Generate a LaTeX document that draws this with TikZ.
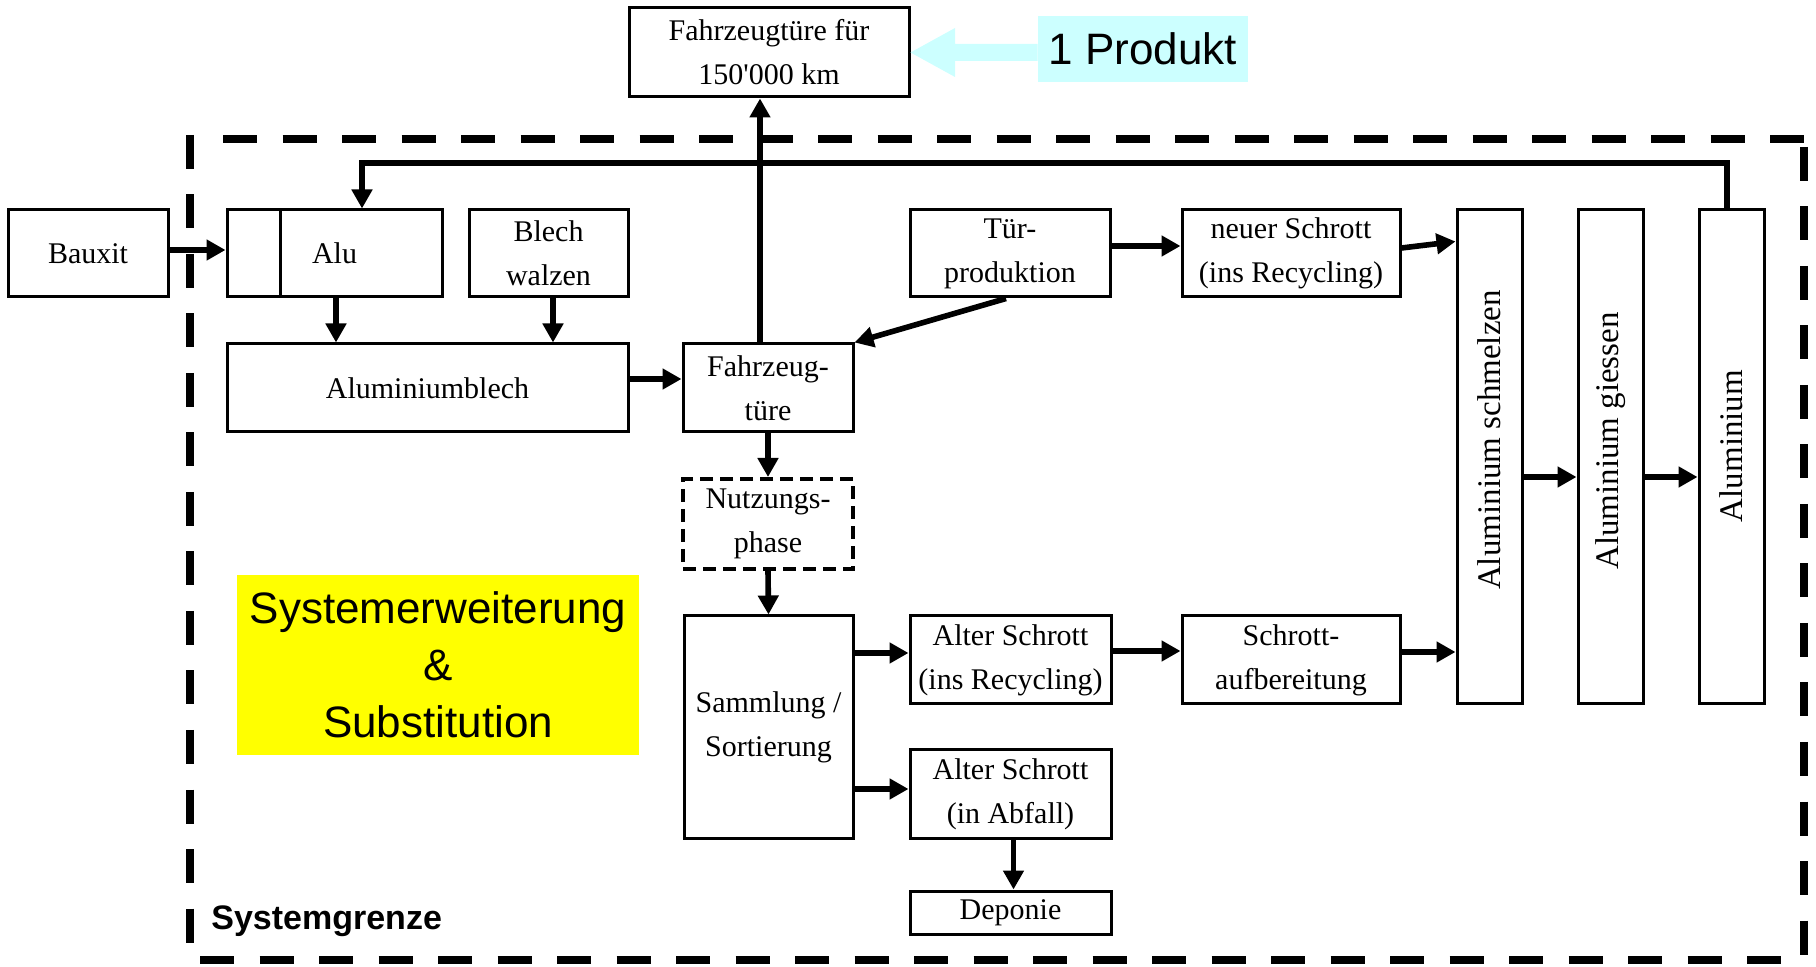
\documentclass[tikz,border=0pt]{standalone}
\usepackage{fontspec}
\setmainfont{Liberation Serif}
\newfontfamily\arialfont{Liberation Sans}
\usetikzlibrary{arrows.meta}
\definecolor{produktcyan}{HTML}{CCFFFF}
\definecolor{signalyellow}{HTML}{FFFF00}

\begin{document}
\begin{tikzpicture}[x=0.5pt, y=-0.5pt,
  box/.style={draw, line width=1.5pt, inner sep=0pt, align=center,
              font=\fontsize{15}{22}\selectfont},
  usebox/.style={box, line width=2pt, dash pattern=on 6.5pt off 3.5pt},
  flow/.style={line width=2.8pt, -{Triangle[length=9.5pt,width=10pt]}},
  boundary/.style={line width=4pt, dash pattern=on 17pt off 12.75pt},
  vtext/.style={rotate=90, inner sep=0pt, font=\fontsize{16.5}{20}\selectfont}
]
\useasboundingbox (0,0) rectangle (1816,967);

% system boundary
\draw[boundary] (190,135) -- (190,962);
\draw[boundary] (223,139) -- (1806,139);
\draw[boundary] (1804,147) -- (1804,962);
\draw[boundary] (200,960) -- (1804,960);

% product box and label
\node[box, minimum width=140pt, minimum height=44.5pt] (ziel) at (769,52.5) {Fahrzeugtüre für\\150\textquotesingle 000 km};
\node[fill=produktcyan, inner sep=0pt, minimum width=105pt, minimum height=33pt,
      font=\arialfont\fontsize{22}{26}\selectfont] (produkt) at (1143,49) {1 Produkt};
\fill[produktcyan] (produkt.west |- 0,44) -- (955,44) -- (955,28) -- (ziel.east)
  -- (955,77) -- (955,61) -- (produkt.west |- 0,61) -- cycle;

% process boxes
\node[box, minimum width=80pt, minimum height=43.5pt] (bauxit) at (88,253.5) {Bauxit};
\node[box, minimum width=107.5pt, minimum height=43.5pt] (alu) at (334.5,253.5) {Alu};
\draw[line width=1.5pt] ([xshift=27.5pt]alu.north west) -- ([xshift=27.5pt]alu.south west);
\node[box, minimum width=79.5pt, minimum height=43.5pt] (walzen) at (548.5,253.5) {Blech\\walzen};
\node[box, minimum width=200.5pt, minimum height=44pt] (alublech) at (427.5,388) {Aluminiumblech};
\node[box, minimum width=85pt, minimum height=44pt] (tuer) at (768,388) {Fahrzeug-\\türe};
\node[box, minimum width=100pt, minimum height=43.5pt] (tprod) at (1010,253.5) {Tür-\\produktion};
\node[box, minimum width=109pt, minimum height=43.5pt] (neu) at (1291,253.5) {neuer Schrott\\(ins Recycling)};
\node[usebox, minimum width=85pt, minimum height=45pt] (nutz) at (768,524) {Nutzungs-\\phase};
\node[box, minimum width=84.5pt, minimum height=111pt] (samm) at (768.5,727) {Sammlung /\\Sortierung};
\node[box, minimum width=100.5pt, minimum height=44pt] (altrec) at (1010.5,660) {Alter Schrott\\(ins Recycling)};
\node[box, minimum width=109pt, minimum height=44pt] (aufb) at (1291,660) {Schrott-\\aufbereitung};
\node[box, minimum width=100.5pt, minimum height=44pt] (abfall) at (1010.5,794) {Alter Schrott\\(in Abfall)};
\node[box, minimum width=100.5pt, minimum height=21.5pt] (deponie) at (1010.5,912.5) {Deponie};

% tall aluminium boxes with upright text
\node[box, minimum width=32.5pt, minimum height=247pt] (schmelzen) at (1489.5,457) {};
\node[box, minimum width=32.5pt, minimum height=247pt] (giessen) at (1610.5,457) {};
\node[box, minimum width=32.5pt, minimum height=247pt] (alum) at (1731.5,457) {};
\node[vtext] (tschmelzen) at (1489.5,440) {Aluminium schmelzen};
\node[vtext] (tgiessen) at (1610.5,441) {Aluminium giessen};
\node[vtext] (talum) at (1731.5,446) {Aluminium};

% highlighted note and boundary label
\node[fill=signalyellow, inner sep=0pt, minimum width=201pt, minimum height=90pt, align=center,
      font=\arialfont\fontsize{22}{28.5}\selectfont] (erweiterung) at (438,665)
      {Systemerweiterung\\\&\\Substitution};
\node[anchor=west, inner sep=0pt, font=\arialfont\bfseries\fontsize{17}{20}\selectfont]
      (grenze) at (211,921) {Systemgrenze};

% flows
\coordinate (loopA) at (1727,209);
\coordinate (loopB) at (362,163);
\draw[flow] (loopA) |- (loopB) -- (loopB |- alu.north);
\draw[flow] ([yshift=1.75pt]bauxit.east) -- ([yshift=1.75pt]alu.west);
\draw[flow] ([xshift=0.75pt]alu.south) -- ([xshift=0.75pt]alu.south |- alublech.north);
\draw[flow] ([xshift=2.25pt]walzen.south) -- ([xshift=2.25pt]walzen.south |- alublech.north);
\draw[flow] ([yshift=4.5pt]alublech.east) -- ([yshift=4.5pt]tuer.west);
\draw[flow] ([xshift=-4pt]tuer.north) -- ([xshift=-4pt]tuer.north |- ziel.south);
\draw[flow] (tuer.south) -- (nutz.north);
\draw[flow] (nutz.south) -- (samm.north);
\draw[flow] ([xshift=-2pt]tprod.south) -- (tuer.north east);
\draw[flow] ([yshift=3.75pt]tprod.east) -- ([yshift=3.75pt]neu.west);
\draw[flow] ([yshift=2.75pt]neu.east) -- ([yshift=6pt]schmelzen.west |- neu.east);
\draw[flow] ([yshift=3.5pt]samm.east |- altrec.west) -- ([yshift=3.5pt]altrec.west);
\draw[flow] ([yshift=2.5pt]samm.east |- abfall.west) -- ([yshift=2.5pt]abfall.west);
\draw[flow] ([yshift=4.5pt]altrec.east) -- ([yshift=4.5pt]aufb.west);
\draw[flow] ([yshift=4pt]aufb.east) -- ([yshift=4pt]schmelzen.west |- aufb.east);
\draw[flow] ([xshift=1.5pt]abfall.south) -- ([xshift=1.5pt]abfall.south |- deponie.north);
\draw[flow] ([yshift=-10pt]schmelzen.east) -- ([yshift=-10pt]giessen.west);
\draw[flow] ([yshift=-10pt]giessen.east) -- ([yshift=-10pt]alum.west);
\end{tikzpicture}
\end{document}
